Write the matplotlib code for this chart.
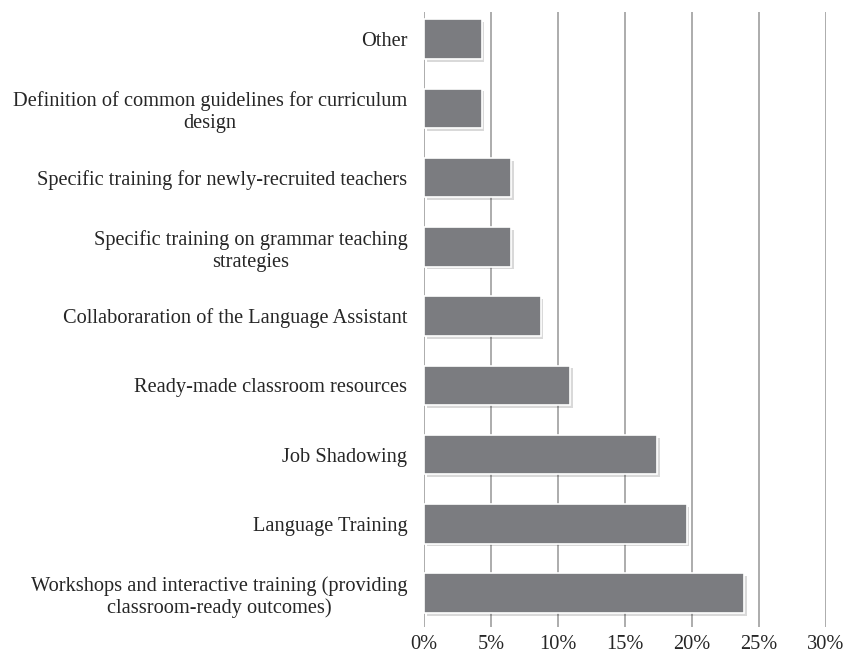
import matplotlib.pyplot as plt
import matplotlib.patheffects as pe
from matplotlib.ticker import PercentFormatter

categories = [
    "Workshops and interactive training (providing\nclassroom-ready outcomes)",
    "Language Training",
    "Job Shadowing",
    "Ready-made classroom resources",
    "Collaboraration of the Language Assistant",
    "Specific training on grammar teaching\nstrategies",
    "Specific training for newly-recruited teachers",
    "Definition of common guidelines for curriculum\ndesign",
    "Other",
]
shares = [23.9, 19.6, 17.4, 10.9, 8.7, 6.5, 6.5, 4.3, 4.3]
ticks = [0, 5, 10, 15, 20, 25, 30]

plt.rcParams['font.family'] = ['Liberation Serif', 'DejaVu Serif']

fig = plt.figure(figsize=(8.47, 6.6), dpi=100)
ax = fig.add_axes([424 / 847, 33 / 660, 402 / 847, 615 / 660])

pos = list(range(len(categories)))
bars = ax.barh(pos, shares, height=0.57, color="#7b7c80",
               edgecolor="white", linewidth=1.2, zorder=3)
for b in bars:
    b.set_path_effects([pe.SimplePatchShadow(offset=(2, -2), shadow_rgbFace="#000000", alpha=0.15),
                        pe.Normal()])

ax.set_xlim(0, 30)
ax.set_ylim(-0.49, 8.39)
ax.set_xticks(ticks)
ax.xaxis.set_major_formatter(PercentFormatter(decimals=0))
ax.set_yticks(pos)
ax.set_yticklabels(categories, multialignment="center")

# vertical gridlines, the 0% one doubles as the axis line
for t in ticks:
    ax.axvline(t, color="#a6a6a6", linewidth=1.3, zorder=1)

for s in ax.spines.values():
    s.set_visible(False)
ax.tick_params(axis="both", length=0, labelsize=14.7, colors="#262626")
ax.tick_params(axis="y", pad=12)
ax.tick_params(axis="x", pad=6)

fig.savefig("out.png", dpi=100, facecolor="white")
